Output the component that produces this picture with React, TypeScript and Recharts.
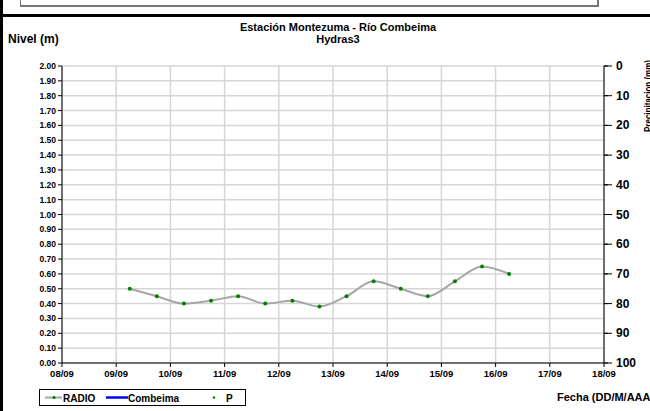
import * as React from "react";
import {
  ComposedChart,
  Line,
  XAxis,
  YAxis,
  CartesianGrid,
} from "recharts";

// lecturas RADIO (fecha dd/mm hh:mm -> nivel en m)
const fechas = [
  "09/09 06:00", "09/09 18:00", "10/09 06:00", "10/09 18:00", "11/09 06:00",
  "11/09 18:00", "12/09 06:00", "12/09 18:00", "13/09 06:00", "13/09 18:00",
  "14/09 06:00", "14/09 18:00", "15/09 06:00", "15/09 18:00", "16/09 06:00",
];
const radio = [0.5, 0.45, 0.4, 0.42, 0.45, 0.4, 0.42, 0.38, 0.45, 0.55, 0.5, 0.45, 0.55, 0.65, 0.6];
const combeima: number[] = [];
const precipitacion: number[] = [];

const diasX = [8, 9, 10, 11, 12, 13, 14, 15, 16, 17, 18];
const nivelTicks = Array.from({ length: 21 }, (_, i) => i / 10);
const precTicks = [0, 10, 20, 30, 40, 50, 60, 70, 80, 90, 100];

const FONT = "'Liberation Sans', Arial, sans-serif";

function toDay(f: string) {
  const [d, h] = f.split(" ");
  const [hh, mm] = h.split(":").map(Number);
  return Number(d.split("/")[0]) + (hh + mm / 60) / 24;
}

const data = fechas.map((f, i) => ({
  t: toDay(f),
  radio: radio[i],
  combeima: combeima[i],
  p: precipitacion[i],
}));

// tick de la derecha: raya que cruza el eje + numero
const renderPrecTick = (props: any) => {
  const { x, y, payload } = props;
  return (
    <g key={`pt-${payload.value}`}>
      <line x1={x - 8} x2={x} y1={y} y2={y} stroke="#000" strokeWidth={1} />
      <text x={x + 4} y={y + 4} fontFamily={FONT} fontWeight="bold" fontSize={12} fill="#000">
        {payload.value}
      </text>
    </g>
  );
};

export default function App() {
  return (
    <div style={{ position: "absolute", left: 0, top: 0, width: 650, height: 411, background: "#fff", overflow: "hidden" }}>
      {/* marco superior */}
      <div style={{ position: "absolute", left: 0, top: 0, width: 3, height: 411, background: "#000" }} />
      <div style={{ position: "absolute", left: 0, top: 14, width: 650, height: 3, background: "#000" }} />
      <div style={{ position: "absolute", left: 20, top: -2, width: 576, height: 7, borderLeft: "1px solid #777", borderRight: "2px solid #777", borderBottom: "2px solid #777" }} />

      <ComposedChart
        width={650}
        height={411}
        data={data}
        margin={{ top: 66, right: 0, bottom: 27, left: 0 }}
        style={{ position: "absolute", left: 0, top: 0 }}
      >
        <CartesianGrid yAxisId="nivel" stroke="#d6d6d6" strokeWidth={1.5} vertical horizontal />
        <XAxis
          dataKey="t"
          type="number"
          domain={[8, 18]}
          ticks={diasX}
          interval={0}
          height={21}
          tickFormatter={(v: number) => `${String(v).padStart(2, "0")}/09`}
          tick={{ fontFamily: FONT, fontWeight: "bold", fontSize: 9.5, fill: "#000" }}
          axisLine={{ stroke: "#000" }}
          tickLine={{ stroke: "#000" }}
          tickSize={4}
          tickMargin={3}
        />
        <YAxis
          yAxisId="nivel"
          orientation="left"
          width={62}
          domain={[0, 2]}
          ticks={nivelTicks}
          interval={0}
          tickFormatter={(v: number) => v.toFixed(2)}
          tick={{ fontFamily: FONT, fontWeight: "bold", fontSize: 8.5, fill: "#000" }}
          axisLine={{ stroke: "#000" }}
          tickLine={{ stroke: "#000" }}
          tickSize={4}
        />
        <YAxis
          yAxisId="prec"
          orientation="right"
          width={46}
          type="number"
          domain={[0, 100]}
          allowDataOverflow
          reversed
          ticks={precTicks}
          interval={0}
          tick={renderPrecTick}
          axisLine={{ stroke: "#000" }}
          tickLine={{ stroke: "#000" }}
          tickSize={4}
          tickMargin={4}
        />
        <Line
          yAxisId="nivel"
          dataKey="radio"
          type="monotone"
          stroke="#a6a6a6"
          strokeWidth={2}
          dot={{ r: 2, fill: "#008000", stroke: "#008000", strokeWidth: 0 }}
          isAnimationActive={false}
        />
        <Line
          yAxisId="nivel"
          dataKey="combeima"
          stroke="#0000ff"
          strokeWidth={2}
          dot={false}
          isAnimationActive={false}
        />
        <Line
          yAxisId="prec"
          dataKey="p"
          stroke="none"
          dot={{ r: 1.5, fill: "#008000", stroke: "none" }}
          isAnimationActive={false}
        />
      </ComposedChart>

      <svg width={650} height={411} style={{ position: "absolute", left: 0, top: 0, pointerEvents: "none" }}>
        <text x={338} y={31} textAnchor="middle" fontFamily={FONT} fontWeight="bold" fontSize={11}>
          Estación Montezuma - Río Combeima
        </text>
        <text x={338} y={43} textAnchor="middle" fontFamily={FONT} fontWeight="bold" fontSize={11}>
          Hydras3
        </text>
        <text x={8} y={43} fontFamily={FONT} fontWeight="bold" fontSize={12}>
          Nivel (m)
        </text>
        <text
          x={0}
          y={0}
          transform="translate(652 96) rotate(-90)"
          textAnchor="middle"
          fontFamily={FONT}
          fontWeight="bold"
          fontSize={10}
          textLength={72}
          lengthAdjust="spacingAndGlyphs"
        >
          Precipitacion (mm)
        </text>
        <text x={557} y={401} fontFamily={FONT} fontWeight="bold" fontSize={11}>
          Fecha (DD/M/AAAA)
        </text>

        {/* leyenda */}
        <rect x={39.5} y={389.5} width={206} height={16} fill="#fff" stroke="#000" strokeWidth={1} />
        <line x1={45} x2={62} y1={397.5} y2={397.5} stroke="#a6a6a6" strokeWidth={2} />
        <circle cx={54} cy={397.5} r={1.6} fill="#008000" />
        <text x={63} y={401.5} fontFamily={FONT} fontWeight="bold" fontSize={10}>RADIO</text>
        <line x1={106} x2={128} y1={397.5} y2={397.5} stroke="#0000ff" strokeWidth={2.5} />
        <text x={128} y={401.5} fontFamily={FONT} fontWeight="bold" fontSize={10}>Combeima</text>
        <circle cx={214} cy={397.5} r={1.2} fill="#008000" />
        <text x={226} y={401.5} fontFamily={FONT} fontWeight="bold" fontSize={10}>P</text>
      </svg>
    </div>
  );
}
